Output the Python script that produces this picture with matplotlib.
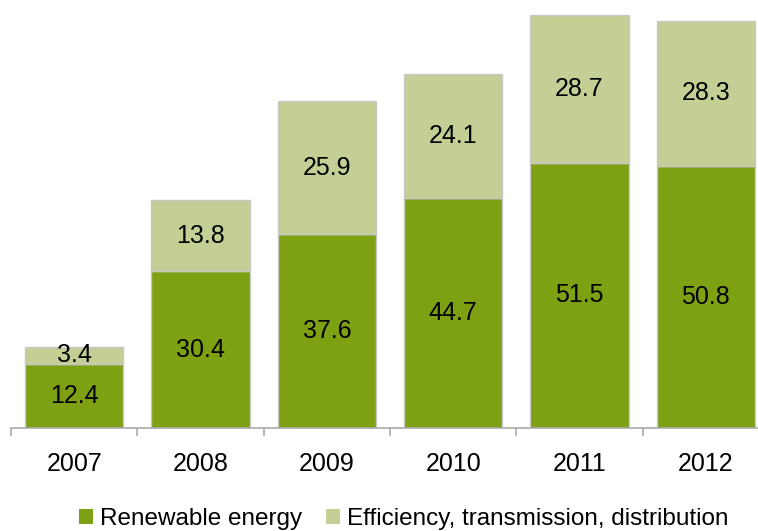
import numpy as np
import matplotlib.pyplot as plt
from matplotlib.patches import Patch

years = ['2007', '2008', '2009', '2010', '2011', '2012']
renewable = [12.4, 30.4, 37.6, 44.7, 51.5, 50.8]
efficiency = [3.4, 13.8, 25.9, 24.1, 28.7, 28.3]

dark_green = '#7ea113'
light_green = '#c3cf95'
edge = '#c8c8c8'

plt.rcParams['font.family'] = ['Liberation Sans', 'DejaVu Sans']

fig = plt.figure(figsize=(7.58, 5.31), dpi=100)
# the last category runs a little past the right edge of the figure
ax = fig.add_axes([0.0145, 0.194, 1.0, 0.806])

x = np.arange(len(years))
w = 0.776
ax.bar(x, renewable, w, color=dark_green, edgecolor=edge, linewidth=1)
ax.bar(x, efficiency, w, bottom=renewable, color=light_green, edgecolor=edge, linewidth=1)

# value labels centred in each segment
for i in range(len(years)):
    ax.text(x[i], renewable[i] / 2, f'{renewable[i]:.1f}', ha='center', va='center', fontsize=18)
    ax.text(x[i], renewable[i] + efficiency[i] / 2, f'{efficiency[i]:.1f}',
            ha='center', va='center', fontsize=18)

ax.set_xlim(-0.5, len(years) - 0.5)
ax.set_ylim(0, 83.1)

for s in ['top', 'right', 'left']:
    ax.spines[s].set_visible(False)
ax.spines['bottom'].set_color('#aaaaaa')
ax.spines['bottom'].set_linewidth(1.2)
ax.set_yticks([])

# ticks sit between the categories, labels under each bar
ax.set_xticks(np.arange(-0.5, len(years)), minor=False)
ax.set_xticklabels([])
ax.tick_params(axis='x', which='major', length=6, color='#aaaaaa', width=1.2)
ax.set_xticks(x, minor=True)
ax.set_xticklabels(years, minor=True, fontsize=18)
ax.tick_params(axis='x', which='minor', length=0, pad=17)

handles = [Patch(facecolor=dark_green, edgecolor='none'),
           Patch(facecolor=light_green, edgecolor='none')]
fig.legend(handles, ['Renewable energy', 'Efficiency, transmission, distribution'],
           loc='center', bbox_to_anchor=(0.533, 0.022), ncol=2, frameon=False,
           fontsize=17.5, handlelength=0.55, handleheight=0.55, handletextpad=0.3,
           columnspacing=1.0, borderpad=0)

fig.savefig('out.png', dpi=100)
